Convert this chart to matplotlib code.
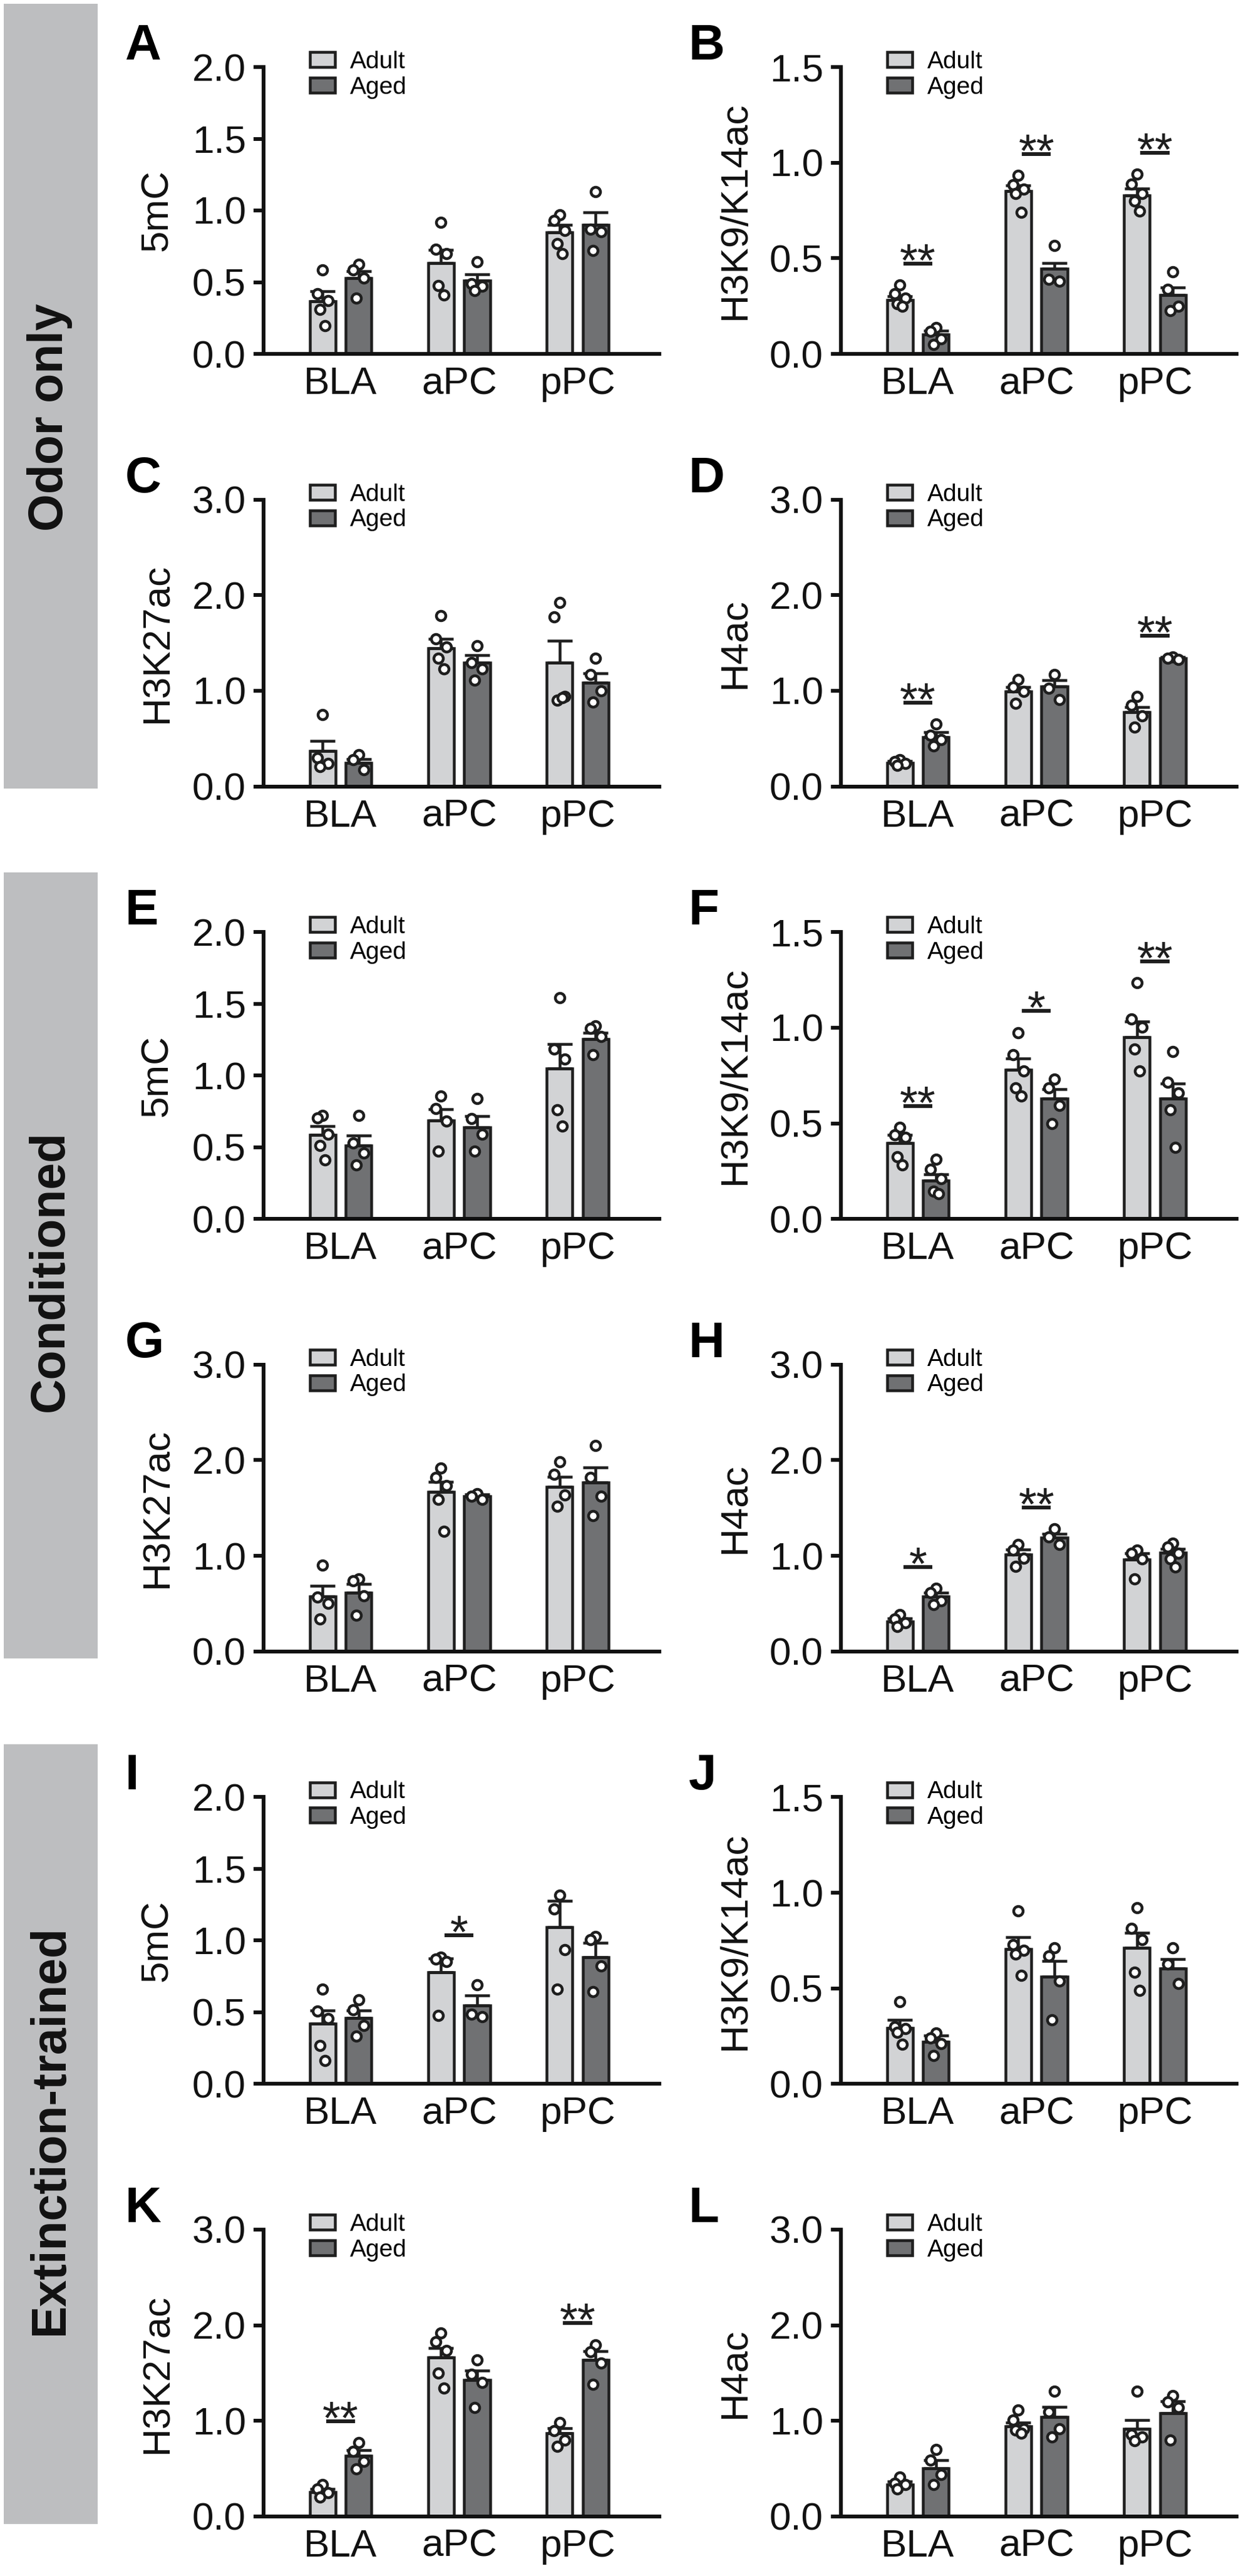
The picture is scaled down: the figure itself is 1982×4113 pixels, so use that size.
import matplotlib
matplotlib.use('Agg')
import matplotlib.pyplot as plt
from matplotlib.patches import Patch, Rectangle
import numpy as np

plt.rcParams['font.family'] = ['Liberation Sans', 'DejaVu Sans']

# ---------------- data ----------------
regions = ['BLA', 'aPC', 'pPC']
groups = ['Adult', 'Aged']
conditions = ['Odor only', 'Conditioned', 'Extinction-trained']

# panel A: 5mC (odor only)
A_means = [[0.365, 0.634, 0.849], [0.527, 0.511, 0.898]]
A_sems = [[0.07, 0.09, 0.05], [0.05, 0.045, 0.087]]
A_adult_pts = [[0.585, 0.42, 0.37, 0.31, 0.195], [0.917, 0.73, 0.70, 0.478, 0.41], [0.97, 0.93, 0.86, 0.77, 0.70]]
A_aged_pts = [[0.624, 0.585, 0.53, 0.39], [0.644, 0.49, 0.47, 0.44], [1.13, 0.87, 0.85, 0.72]]
A_sig = [None, None, None]

# panel B: H3K9/K14ac (odor only)
B_means = [[0.282, 0.852, 0.83], [0.102, 0.446, 0.307]]
B_sems = [[0.02, 0.03, 0.035], [0.02, 0.03, 0.04]]
B_adult_pts = [[0.359, 0.315, 0.29, 0.263, 0.249], [0.932, 0.885, 0.86, 0.84, 0.74], [0.94, 0.888, 0.84, 0.80, 0.746]]
B_aged_pts = [[0.139, 0.117, 0.08, 0.05], [0.566, 0.39, 0.38], [0.43, 0.337, 0.249, 0.227]]
B_sig = ['**', '**', '**']

# panel C: H3K27ac (odor only)
C_means = [[0.374, 1.445, 1.295], [0.248, 1.295, 1.082]]
C_sems = [[0.10, 0.10, 0.23], [0.04, 0.08, 0.10]]
C_adult_pts = [[0.75, 0.30, 0.24, 0.21], [1.785, 1.543, 1.457, 1.34, 1.226], [1.92, 1.77, 0.94, 0.90, 0.93]]
C_aged_pts = [[0.334, 0.276, 0.173], [1.474, 1.295, 1.23, 1.11], [1.34, 1.17, 1.0, 0.88]]
C_sig = [None, None, None]

# panel D: H4ac (odor only)
D_means = [[0.248, 0.99, 0.777], [0.518, 1.048, 1.34]]
D_sems = [[0.015, 0.05, 0.05], [0.05, 0.06, 0.012]]
D_adult_pts = [[0.28, 0.26, 0.24, 0.22], [1.12, 1.04, 0.99, 0.87], [0.94, 0.85, 0.737, 0.62]]
D_aged_pts = [[0.65, 0.535, 0.49, 0.42], [1.169, 1.025, 0.91], [1.353, 1.34, 1.33]]
D_sig = ['**', None, '**']

# panel E: 5mC (conditioned)
E_means = [[0.588, 0.685, 1.05], [0.51, 0.638, 1.254]]
E_sems = [[0.06, 0.08, 0.17], [0.07, 0.08, 0.045]]
E_adult_pts = [[0.723, 0.704, 0.59, 0.51, 0.41], [0.858, 0.77, 0.68, 0.473], [1.542, 1.185, 1.115, 0.76, 0.646]]
E_aged_pts = [[0.723, 0.53, 0.46, 0.377], [0.838, 0.70, 0.59, 0.473], [1.346, 1.33, 1.27, 1.146]]
E_sig = [None, None, None]

# panel F: H3K9/K14ac (conditioned)
F_means = [[0.398, 0.779, 0.952], [0.202, 0.629, 0.629]]
F_sems = [[0.04, 0.06, 0.08], [0.03, 0.05, 0.08]]
F_adult_pts = [[0.479, 0.441, 0.427, 0.326, 0.283], [0.975, 0.86, 0.773, 0.686, 0.643], [1.234, 1.047, 1.004, 0.888, 0.773]]
F_aged_pts = [[0.312, 0.26, 0.21, 0.144, 0.133], [0.73, 0.686, 0.594, 0.5], [0.874, 0.715, 0.66, 0.571, 0.375]]
F_sig = ['**', '*', '**']

# panel G: H3K27ac (conditioned)
G_means = [[0.575, 1.667, 1.724], [0.615, 1.621, 1.764]]
G_sems = [[0.11, 0.11, 0.10], [0.09, 0.02, 0.16]]
G_adult_pts = [[0.902, 0.569, 0.50, 0.339], [1.92, 1.822, 1.735, 1.592, 1.259], [1.983, 1.851, 1.638, 1.517]]
G_aged_pts = [[0.76, 0.74, 0.58, 0.38], [1.65, 1.621, 1.59], [2.155, 1.822, 1.62, 1.42]]
G_sig = [None, None, None]

# panel H: H4ac (conditioned)
H_means = [[0.316, 1.017, 0.96], [0.575, 1.19, 1.034]]
H_sems = [[0.03, 0.05, 0.07], [0.04, 0.04, 0.04]]
H_adult_pts = [[0.385, 0.34, 0.30, 0.259], [1.12, 1.06, 0.977, 0.89], [1.063, 1.03, 0.97, 0.759]]
H_aged_pts = [[0.661, 0.615, 0.53, 0.489], [1.28, 1.2, 1.12], [1.131, 1.09, 1.03, 0.97, 0.88]]
H_sig = ['*', '**', None]

# panel I: 5mC (extinction-trained)
I_means = [[0.423, 0.777, 1.092], [0.462, 0.546, 0.885]]
I_sems = [[0.09, 0.10, 0.185], [0.05, 0.07, 0.10]]
I_adult_pts = [[0.662, 0.508, 0.458, 0.27, 0.162], [0.885, 0.87, 0.854, 0.477], [1.315, 1.219, 0.938, 0.662]]
I_aged_pts = [[0.585, 0.515, 0.41, 0.335], [0.692, 0.488, 0.47], [1.027, 1.008, 0.823, 0.642]]
I_sig = [None, '*', None]

# panel J: H3K9/K14ac (extinction-trained)
J_means = [[0.294, 0.707, 0.712], [0.222, 0.562, 0.603]]
J_sems = [[0.04, 0.06, 0.08], [0.03, 0.08, 0.05]]
J_adult_pts = [[0.43, 0.30, 0.29, 0.271, 0.208], [0.906, 0.727, 0.698, 0.68, 0.568], [0.92, 0.813, 0.755, 0.583, 0.49]]
J_aged_pts = [[0.265, 0.24, 0.21, 0.15], [0.712, 0.67, 0.539, 0.337], [0.712, 0.626, 0.525]]
J_sig = [None, None, None]

# panel K: H3K27ac (extinction-trained)
K_means = [[0.256, 1.664, 0.874], [0.635, 1.426, 1.64]]
K_sems = [[0.03, 0.10, 0.05], [0.06, 0.10, 0.09]]
K_adult_pts = [[0.337, 0.286, 0.248, 0.2], [1.918, 1.828, 1.739, 1.50, 1.342], [0.984, 0.895, 0.80, 0.734]]
K_aged_pts = [[0.77, 0.68, 0.576, 0.5], [1.64, 1.49, 1.40, 1.142], [1.798, 1.724, 1.605, 1.38]]
K_sig = ['**', None, '**']

# panel L: H4ac (extinction-trained)
L_means = [[0.337, 0.942, 0.919], [0.507, 1.044, 1.083]]
L_sems = [[0.03, 0.04, 0.09], [0.08, 0.10, 0.12]]
L_adult_pts = [[0.41, 0.35, 0.337, 0.286], [1.112, 1.008, 0.92, 0.904, 0.874], [1.312, 0.86, 0.829, 0.793]]
L_aged_pts = [[0.704, 0.59, 0.44, 0.337], [1.312, 1.097, 0.919, 0.829], [1.262, 1.20, 1.142, 0.80]]
L_sig = [None, None, None]

letters = ['A', 'B', 'C', 'D', 'E', 'F', 'G', 'H', 'I', 'J', 'K', 'L']
ylabels = ['5mC', 'H3K9/K14ac', 'H3K27ac', 'H4ac'] * 3
ymaxes = [2.0, 1.5, 3.0, 3.0] * 3
ysteps = [0.5, 0.5, 1.0, 1.0] * 3

panels = [
    (A_means, A_sems, A_adult_pts, A_aged_pts, A_sig),
    (B_means, B_sems, B_adult_pts, B_aged_pts, B_sig),
    (C_means, C_sems, C_adult_pts, C_aged_pts, C_sig),
    (D_means, D_sems, D_adult_pts, D_aged_pts, D_sig),
    (E_means, E_sems, E_adult_pts, E_aged_pts, E_sig),
    (F_means, F_sems, F_adult_pts, F_aged_pts, F_sig),
    (G_means, G_sems, G_adult_pts, G_aged_pts, G_sig),
    (H_means, H_sems, H_adult_pts, H_aged_pts, H_sig),
    (I_means, I_sems, I_adult_pts, I_aged_pts, I_sig),
    (J_means, J_sems, J_adult_pts, J_aged_pts, J_sig),
    (K_means, K_sems, K_adult_pts, K_aged_pts, K_sig),
    (L_means, L_sems, L_adult_pts, L_aged_pts, L_sig),
]

# ---------------- style ----------------
W, H = 1983, 4113
DPI = 100
PT = 72.0 / DPI  # points per pixel

bar_colors = ['#d2d3d5', '#707173']
edge_col = '#1e1e1e'
side_col = '#bdbec0'
FS_TICK = 62 * PT
FS_LEG = 39 * PT
FS_LETTER = 80 * PT
FS_SIDE = 77 * PT
FS_STAR = 74 * PT
LW_AX = 6 * PT
LW_BAR = 4.5 * PT

fig = plt.figure(figsize=(W / DPI, H / DPI), dpi=DPI)

# side bars with condition names
side_spans = [(6, 1259), (1393, 2648), (2785, 4030)]
side_text_y = [666, 2029, 3401]
for (t, b), ty, name in zip(side_spans, side_text_y, conditions):
    fig.add_artist(Rectangle((6 / W, 1 - b / H), 150 / W, (b - t) / H,
                             transform=fig.transFigure, facecolor=side_col,
                             edgecolor='none', zorder=0))
    fig.text(80 / W, 1 - ty / H, name, rotation=90, ha='center', va='center',
             fontsize=FS_SIDE, fontweight='bold', color='#111111')

ax_w, ax_h = 632, 458
col_x = [421, 1343]
letter_x = [200, 1100]
row_pitch = 690.6
row0 = 107

bw = 0.217
off = 0.152
jit = [0.0, -0.045, 0.045, -0.022, 0.022]

for k, (means, sems, adult_pts, aged_pts, sig) in enumerate(panels):
    r, c = divmod(k, 2)
    top = row0 + r * row_pitch
    ax = fig.add_axes([col_x[c] / W, 1 - (top + ax_h) / H, ax_w / W, ax_h / H])
    ymax = ymaxes[k]
    x = np.arange(len(regions))
    for g in range(2):
        xs = x + (-off if g == 0 else off)
        ax.bar(xs, means[g], width=bw, color=bar_colors[g], edgecolor=edge_col,
               linewidth=LW_BAR, zorder=2, label=groups[g])
        ax.errorbar(xs, means[g], yerr=[np.zeros(3), sems[g]], fmt='none',
                    ecolor=edge_col, elinewidth=LW_BAR, capsize=10 * PT * 2,
                    capthick=LW_BAR, zorder=3)
        pts = adult_pts if g == 0 else aged_pts
        for i, vals in enumerate(pts):
            px = [xs[i] + jit[j % len(jit)] for j in range(len(vals))]
            ax.plot(px, vals, 'o', ms=15 * PT, mfc='white', mec=edge_col,
                    mew=4.5 * PT, zorder=4, clip_on=False)
    # significance
    for i, s in enumerate(sig):
        if s is None:
            continue
        top_val = max(max(adult_pts[i]), max(aged_pts[i]))
        yl = top_val + 0.075 * ymax
        ax.plot([x[i] - 0.122, x[i] + 0.122], [yl, yl], color=edge_col,
                lw=6 * PT, solid_capstyle='butt', zorder=5)
        ax.annotate(s, xy=(x[i], yl), xytext=(0, -20 * PT), textcoords='offset points',
                    ha='center', va='baseline', fontsize=FS_STAR, color=edge_col)

    ax.set_xlim(-0.65, 2.69)
    ax.set_ylim(0, ymax)
    ticks = np.arange(0, ymax + 1e-9, ysteps[k])
    ax.set_yticks(ticks)
    ax.set_yticklabels([f'{t:.1f}' for t in ticks])
    ax.set_xticks(x)
    ax.set_xticklabels(regions)
    for sp in ['top', 'right']:
        ax.spines[sp].set_visible(False)
    for sp in ['left', 'bottom']:
        ax.spines[sp].set_linewidth(LW_AX)
        ax.spines[sp].set_color('#111111')
    ax.tick_params(axis='y', direction='out', length=16 * PT, width=LW_AX,
                   pad=12 * PT, labelsize=FS_TICK, colors='#111111')
    ax.tick_params(axis='x', length=0, pad=20 * PT, labelsize=FS_TICK, colors='#111111')
    ax.set_ylabel(ylabels[k], fontsize=FS_TICK, color='#111111')
    ax.yaxis.label.set_va('center')
    ax.yaxis.set_label_coords(-169 / ax_w, 0.5)

    handles = [Patch(facecolor=bar_colors[g], edgecolor=edge_col, linewidth=LW_BAR,
                     label=groups[g]) for g in range(2)]
    ax.legend(handles=handles, loc='upper left', bbox_to_anchor=(74 / ax_w, 1 + 26 / ax_h),
              frameon=False, fontsize=FS_LEG, handlelength=1.03, handleheight=0.57,
              handletextpad=0.62, labelspacing=0.12, borderpad=0, borderaxespad=0)

    fig.text(letter_x[c] / W, 1 - (top - 12) / H, letters[k], ha='left', va='baseline',
             fontsize=FS_LETTER, fontweight='bold')

fig.savefig('out.png', dpi=DPI)
